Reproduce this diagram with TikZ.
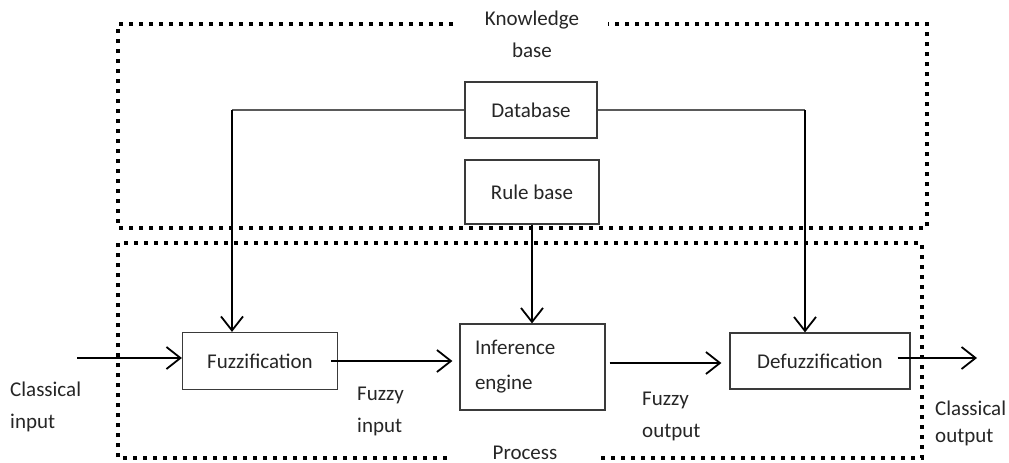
\documentclass[tikz,border=0pt]{standalone}
\usepackage{fontspec}
\setmainfont{Carlito}
\usetikzlibrary{arrows.meta}
\definecolor{boxgray}{HTML}{3A3A3A}
\definecolor{linegray}{HTML}{5A5A5A}
\definecolor{textgray}{HTML}{262626}
\tikzset{
  block/.style={draw=boxgray, line width=1.2pt, rectangle, inner sep=0pt,
    text=textgray, font=\fontsize{21}{32}\selectfont},
  label/.style={inner sep=0pt, align=left, text=textgray,
    font=\fontsize{21}{32}\selectfont},
  title/.style={inner sep=0pt, text=textgray, font=\fontsize{21}{32}\selectfont},
  flow/.style={draw=black, line width=1.8pt,
    -{Straight Barb[length=14pt,width=22pt,line width=1.8pt]}},
  feed/.style={draw=linegray, line width=1.3pt},
  dotline/.style={line width=3.6pt, dash pattern=on 3.6pt off 6.4pt}
}
\begin{document}
\begin{tikzpicture}[x=1pt,y=-1pt]
\useasboundingbox (0,0) rectangle (1009,463);
\fill[white] (0,0) rectangle (1009,463);

% knowledge base frame (gap for its title)
\draw[dotline] (453,24) -- (118,24) -- (118,228) -- (927,228) -- (927,24) -- (608,24);
% process frame (gap for its title)
\draw[dotline] (447,458) -- (118,458) -- (118,243) -- (922,243) -- (922,458) -- (600,458);

% frame titles
\node[label, align=center] (kb) at (532,34) {Knowledge\\base};
\node[title, anchor=base] (proc) at (525,459) {Process};

% blocks
\node[block, minimum width=132pt, minimum height=56pt] (db) at (531,110) {Database};
\node[block, minimum width=134pt, minimum height=64pt] (rb) at (532,192) {Rule base};
\node[block, minimum width=155pt, minimum height=57pt] (fz) at (260,361) {Fuzzification};
\node[block, minimum width=145pt, minimum height=86pt, text width=115pt,
      inner xsep=15pt, align=left,
      font=\fontsize{21}{35}\selectfont] (ie) at (532.5,367) {Inference\\engine};
\node[block, minimum width=180pt, minimum height=56pt] (dfz) at (820,361) {Defuzzification};

% signal labels
\node[label, anchor=west] (cin) at (10,407) {Classical\\input};
\node[label, anchor=west] (fin) at (357,411) {Fuzzy\\input};
\node[label, anchor=west] (fout) at (642,416) {Fuzzy\\output};
\node[label, anchor=west, font=\fontsize{21}{27}\selectfont] (cout) at (935,423) {Classical\\output};

% free ends
\coordinate (inpt) at (77,358);
\coordinate (outpt) at (977,358);
\coordinate (dbl) at (232,110);
\coordinate (dbr) at (805,110);

% database feeds
\draw[feed] (db.west) -- (dbl);
\draw[feed] (db.east) -- (dbr);
\draw[flow] (dbl) -- ([xshift=-28pt]fz.north);
\draw[flow] (dbr) -- ([xshift=-15pt]dfz.north);
\draw[flow] (rb.south) -- (rb.south |- ie.north);

% main chain
\draw[flow] (inpt) -- (inpt -| fz.west);
\draw[flow] ([xshift=-7pt]fz.east) -- ([xshift=-7pt]ie.west |- fz.east);
\draw[flow] ([xshift=4pt]ie.east |- 0,363) -- ([xshift=-8pt]dfz.west |- 0,363);
\draw[flow] ([xshift=-13pt]dfz.east |- outpt) -- (outpt);
\end{tikzpicture}
\end{document}
